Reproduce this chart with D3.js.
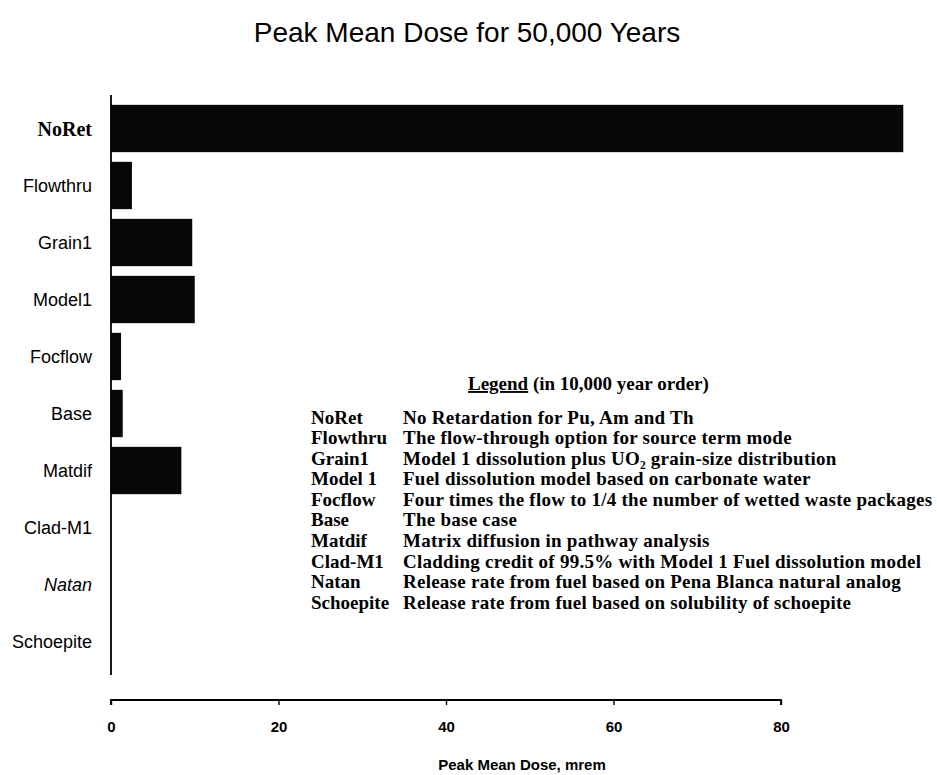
<!DOCTYPE html>
<html>
<head>
<meta charset="utf-8">
<script src="https://cdn.jsdelivr.net/npm/d3@7"></script>
<style>
  html, body { margin: 0; padding: 0; background: #fff; }
  svg { display: block; }
</style>
</head>
<body>
<div id="chart"></div>
<script>
// Cases, in the order drawn from top to bottom
const cases = ["NoRet", "Flowthru", "Grain1", "Model1", "Focflow", "Base", "Matdif", "Clad-M1", "Natan", "Schoepite"];
// Peak mean dose over 50,000 years (mrem)
const peakDose = [94.6, 2.5, 9.7, 10.0, 1.2, 1.4, 8.4, 0, 0, 0];
const xTicks = [0, 20, 40, 60, 80];

// Legend entries (listed in 10,000 year order)
const legendKeys = ["NoRet", "Flowthru", "Grain1", "Model 1", "Focflow", "Base", "Matdif", "Clad-M1", "Natan", "Schoepite"];
const legendText = [
  "No Retardation for Pu, Am and Th",
  "The flow-through option for source term mode",
  "Model 1 dissolution plus UO\u2082 grain-size distribution",
  "Fuel dissolution model based on carbonate water",
  "Four times the flow to 1/4 the number of wetted waste packages",
  "The base case",
  "Matrix diffusion in pathway analysis",
  "Cladding credit of 99.5% with Model 1 Fuel dissolution model",
  "Release rate from fuel based on Pena Blanca natural analog",
  "Release rate from fuel based on solubility of schoepite"
];

const W = 937, H = 775;
const SANS = "'Liberation Sans', Arial, Helvetica, sans-serif";
const SERIF = "'Liberation Serif', 'Times New Roman', serif";

const svg = d3.select("#chart").append("svg")
  .attr("width", W).attr("height", H);

const x = d3.scaleLinear().domain([0, 80]).range([111, 781]);
const y = d3.scaleBand().domain(cases).range([100, 670])
  .paddingInner(0.17).paddingOuter(0.085);

// Title
svg.append("text")
  .attr("x", 467).attr("y", 42)
  .attr("text-anchor", "middle")
  .style("font-family", SANS).style("font-size", "28px")
  .text("Peak Mean Dose for 50,000 Years");

// Bars
svg.append("g").selectAll("rect")
  .data(cases)
  .join("rect")
  .attr("x", x(0))
  .attr("y", d => y(d))
  .attr("width", (d, i) => x(peakDose[i]) - x(0))
  .attr("height", y.bandwidth())
  .attr("fill", "#080808");

// Vertical axis line
svg.append("line")
  .attr("x1", x(0)).attr("x2", x(0))
  .attr("y1", 95).attr("y2", 675)
  .attr("stroke", "#000").attr("stroke-width", 1.8);

// Category labels
svg.append("g").selectAll("text")
  .data(cases)
  .join("text")
  .attr("x", 92)
  .attr("y", d => y(d) + y.bandwidth() / 2)
  .attr("dy", "0.35em")
  .attr("text-anchor", "end")
  .style("font-family", d => d === "NoRet" ? SERIF : SANS)
  .style("font-weight", d => d === "NoRet" ? "bold" : "normal")
  .style("font-style", d => d === "Natan" ? "italic" : "normal")
  .style("font-size", d => d === "NoRet" ? "20px" : "18px")
  .text(d => d);

// Horizontal axis
const xAxis = svg.append("g")
  .attr("transform", "translate(0,700)")
  .call(d3.axisBottom(x).tickValues(xTicks).tickSize(5).tickPadding(16).tickFormat(d3.format("d")));
xAxis.select(".domain")
  .attr("d", `M${x(0)},5V0H${x(80)}V5`)
  .attr("stroke-width", 1.8);
xAxis.selectAll(".tick line").attr("stroke-width", 1.4);
xAxis.selectAll(".tick text")
  .style("font-family", SANS).style("font-size", "15px").style("font-weight", "bold");

// Axis title
svg.append("text")
  .attr("x", 522).attr("y", 770)
  .attr("text-anchor", "middle")
  .style("font-family", SANS).style("font-size", "15px").style("font-weight", "bold")
  .text("Peak Mean Dose, mrem");

// Legend block
const legend = svg.append("g")
  .style("font-family", SERIF).style("font-weight", "bold").style("font-size", "19px");

const lt = legend.append("text")
  .attr("x", 468).attr("y", 390);
lt.append("tspan").style("text-decoration", "underline").text("Legend");
lt.append("tspan").text(" (in 10,000 year order)");

const rowY = d3.scalePoint().domain(d3.range(legendKeys.length)).range([417, 602]);

legend.append("g").selectAll("text")
  .data(legendKeys)
  .join("text")
  .attr("x", 311)
  .attr("y", (d, i) => rowY(i))
  .attr("dy", "0.35em")
  .text(d => d);

legend.append("g").selectAll("text")
  .data(legendText)
  .join("text")
  .attr("x", 403)
  .attr("y", (d, i) => rowY(i))
  .attr("dy", "0.35em")
  .style("letter-spacing", "0.25px")
  .text(d => d);
</script>
</body>
</html>
